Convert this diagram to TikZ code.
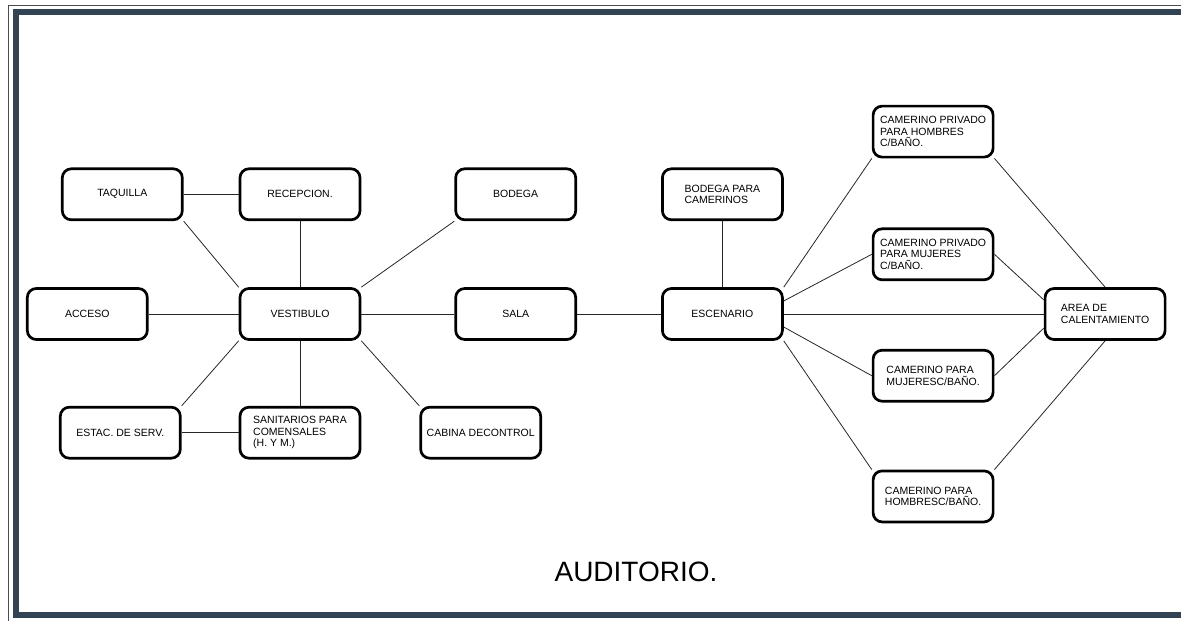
\documentclass[tikz,border=0pt]{standalone}
\usepackage{fontspec}
\setmainfont{Liberation Sans}
\usetikzlibrary{positioning}
\definecolor{framecol}{RGB}{50,68,84}

\begin{document}
\begin{tikzpicture}[
  x=1pt, y=-1pt,
  box/.style={draw, line width=2.7pt, rounded corners=9pt, minimum width=120pt,
    minimum height=51pt, inner sep=2pt, align=left, font=\fontsize{10.5}{11.5}\selectfont},
  link/.style={draw=black!85, line width=0.8pt}
]
\useasboundingbox (0,0) rectangle (1181,621);
% marco
\draw[black!70, line width=1pt] (1181,5) -- (8,5) -- (8,621);
\draw[framecol, line width=6pt] (1181,12) -- (16,12) -- (16,615) -- (1181,615);

% zona publica
\node[box] (vest) at (300,314) {VESTIBULO};
\node[box, above=66pt of vest] (rec) {RECEPCION.};
\node[box, below=65pt of vest] (san) {SANITARIOS PARA\\COMENSALES\\(H. Y M.)};
\node[box, left=90pt of vest] (acc) {ACCESO};
\node[box, right=93pt of vest] (sala) {SALA};
\node[box, left=55pt of rec] (taq) {TAQUILLA};
\node[box, right=93pt of rec] (bod) {BODEGA};
\node[box, left=57pt of san] (est) {ESTAC. DE SERV.};
\node[box, right=58pt of san] (cab) {CABINA DECONTROL};

% escenario y camerinos
\node[box, right=84pt of sala] (esc) {ESCENARIO};
\node[box, above=66pt of esc] (bpc) {BODEGA PARA\\CAMERINOS};
\node[box, right=260pt of esc] (area) {AREA DE\\CALENTAMIENTO};
\node[box, above right=6pt and 88pt of esc] (cpm) {CAMERINO PRIVADO\\PARA MUJERES\\C/BAÑO.};
\node[box, above=69pt of cpm] (cph) {CAMERINO PRIVADO\\PARA HOMBRES\\C/BAÑO.};
\node[box, below right=8pt and 88pt of esc] (cmm) {CAMERINO PARA\\MUJERESC/BAÑO.};
\node[box, below=67pt of cmm] (chm) {CAMERINO PARA\\HOMBRESC/BAÑO.};

\node[font=\fontsize{28}{32}\selectfont] (titulo) at (636,572) {AUDITORIO.};

\draw[link] (taq) -- (rec);
\draw[link] (taq.south east) -- (vest.north west);
\draw[link] (rec) -- (vest);
\draw[link] (bod.south west) -- (vest.north east);
\draw[link] (acc) -- (vest);
\draw[link] (vest) -- (sala);
\draw[link] (vest.south west) -- (est.north east);
\draw[link] (vest) -- (san);
\draw[link] (vest.south east) -- (cab.north west);
\draw[link] (est) -- (san);
\draw[link] (sala) -- (esc);
\draw[link] (bpc) -- (esc);
\draw[link] (esc.north east) -- (cph.south west);
\draw[link] (esc.12) -- (cpm.west);
\draw[link] (esc) -- (area);
\draw[link] (esc.-12) -- (cmm.west);
\draw[link] (esc.south east) -- (chm.north west);
\draw[link] (cph.south east) -- (area.north);
\draw[link] (cpm.east) -- (area.167);
\draw[link] (cmm.east) -- (area.193);
\draw[link] (chm.north east) -- (area.south);
\end{tikzpicture}
\end{document}
